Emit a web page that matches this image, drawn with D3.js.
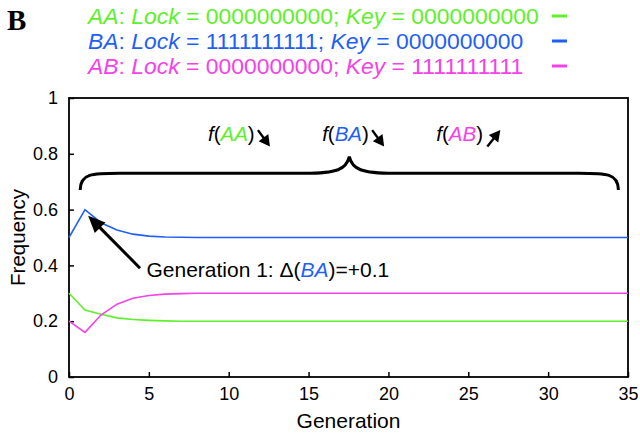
<!DOCTYPE html>
<html>
<head>
<meta charset="utf-8">
<script src="https://cdn.jsdelivr.net/npm/d3@7"></script>
<style>
  body { margin: 0; background: #fff; }
  text { font-family: "Liberation Sans", Arial, Helvetica, sans-serif; }
</style>
</head>
<body>
<div id="plot"></div>
<script>
//Generations on the x axis
const generations = d3.range(0, 36);

//Frequencies, one per generation
const freqAA = [0.300, 0.240, 0.225, 0.212, 0.206, 0.203, 0.201, 0.200, 0.200, 0.200,
                0.200, 0.200, 0.200, 0.200, 0.200, 0.200, 0.200, 0.200, 0.200, 0.200,
                0.200, 0.200, 0.200, 0.200, 0.200, 0.200, 0.200, 0.200, 0.200, 0.200,
                0.200, 0.200, 0.200, 0.200, 0.200, 0.200];
const freqBA = [0.500, 0.600, 0.553, 0.527, 0.512, 0.505, 0.502, 0.501, 0.500, 0.500,
                0.500, 0.500, 0.500, 0.500, 0.500, 0.500, 0.500, 0.500, 0.500, 0.500,
                0.500, 0.500, 0.500, 0.500, 0.500, 0.500, 0.500, 0.500, 0.500, 0.500,
                0.500, 0.500, 0.500, 0.500, 0.500, 0.500];
const freqAB = [0.200, 0.160, 0.222, 0.261, 0.282, 0.292, 0.297, 0.299, 0.300, 0.300,
                0.300, 0.300, 0.300, 0.300, 0.300, 0.300, 0.300, 0.300, 0.300, 0.300,
                0.300, 0.300, 0.300, 0.300, 0.300, 0.300, 0.300, 0.300, 0.300, 0.300,
                0.300, 0.300, 0.300, 0.300, 0.300, 0.300];

//Legend entries
const seriesNames = ["AA", "BA", "AB"];
const lockBits = ["0000000000", "1111111111", "0000000000"];
const keyBits = ["0000000000", "0000000000", "1111111111"];

//Tick labels
const xTicks = [0, 5, 10, 15, 20, 25, 30, 35];
const yTicks = [0, 0.2, 0.4, 0.6, 0.8, 1];

const colors = { AA: "#5ef02a", BA: "#1f5ff5", AB: "#f542e6" };
const series = [
    { name: "AA", values: freqAA },
    { name: "BA", values: freqBA },
    { name: "AB", values: freqAB }
];

const w = 640;
const h = 435;
const svg = d3.select("#plot")
    .append("svg")
    .attr("width", w)
    .attr("height", h);

//Plot box
const pLeft = 69, pRight = 628, pTop = 98, pBottom = 377;
const x = d3.scaleLinear().domain([0, 35]).range([pLeft, pRight]);
const y = d3.scaleLinear().domain([0, 1]).range([pBottom, pTop]);

//Panel letter
svg.append("text")
    .attr("x", 7)
    .attr("y", 30)
    .style("font-family", "'Liberation Serif', 'Times New Roman', serif")
    .style("font-weight", "bold")
    .style("font-size", "29px")
    .text("B");

//Legend rows
const legRow = svg.selectAll("g.leg")
    .data(seriesNames)
    .enter()
    .append("g")
    .attr("class", "leg")
    .attr("transform", (_, i) => "translate(88," + (24 + i * 25) + ")");

const legText = legRow.append("text")
    .style("font-size", "22.9px")
    .attr("fill", d => colors[d]);
legText.append("tspan").style("font-style", "italic").text(d => d);
legText.append("tspan").text(": ");
legText.append("tspan").style("font-style", "italic").text("Lock");
legText.append("tspan").text((d, i) => " = " + lockBits[i] + "; ");
legText.append("tspan").style("font-style", "italic").text("Key");
legText.append("tspan").text((d, i) => " = " + keyBits[i]);

legRow.append("line")
    .attr("x1", 464)
    .attr("x2", 479)
    .attr("y1", -8)
    .attr("y2", -8)
    .attr("stroke", d => colors[d])
    .attr("stroke-width", 3);

//Axes with inward ticks
const xAxis = svg.append("g")
    .attr("transform", "translate(0," + pBottom + ")")
    .call(d3.axisBottom(x).tickValues(xTicks).tickSize(-5).tickPadding(9).tickFormat(d3.format("d")));
const yAxis = svg.append("g")
    .attr("transform", "translate(" + pLeft + ",0)")
    .call(d3.axisLeft(y).tickValues(yTicks).tickSize(-5).tickPadding(11).tickFormat(d => d === 0 || d === 1 ? d : d.toFixed(1)));
[xAxis, yAxis].forEach(a => {
    a.select(".domain").remove();
    a.selectAll("line").attr("stroke", "#000").attr("stroke-width", 1.5);
    a.selectAll("text").style("font-size", "18px").style("font-family", "'Liberation Sans', Arial, sans-serif").attr("fill", "#000");
});
xAxis.selectAll("text").attr("dy", "0.8em");

//Frame
svg.append("rect")
    .attr("x", pLeft)
    .attr("y", pTop)
    .attr("width", pRight - pLeft)
    .attr("height", pBottom - pTop)
    .attr("fill", "none")
    .attr("stroke", "#000")
    .attr("stroke-width", 1.8);

//Series lines
const line = d3.line()
    .x((d, i) => x(generations[i]))
    .y(d => y(d));
svg.selectAll("path.series")
    .data(series)
    .enter()
    .append("path")
    .attr("class", "series")
    .attr("d", d => line(d.values))
    .attr("fill", "none")
    .attr("stroke", d => colors[d.name])
    .attr("stroke-width", 1.6);

//Axis titles
svg.append("text")
    .attr("x", (pLeft + pRight) / 2)
    .attr("y", 428)
    .attr("text-anchor", "middle")
    .style("font-size", "21px")
    .text("Generation");
svg.append("text")
    .attr("transform", "translate(25," + ((pTop + pBottom) / 2) + ") rotate(-90)")
    .attr("text-anchor", "middle")
    .style("font-size", "20.5px")
    .text("Frequency");

//Arrow helper: shaft from (x1,y1) to (x2,y2) with a filled head at (x2,y2)
const arrow = (x1, y1, x2, y2, headLen, headW, sw) => {
    const ang = Math.atan2(y2 - y1, x2 - x1);
    const bx = x2 - headLen * Math.cos(ang), by = y2 - headLen * Math.sin(ang);
    const px = -Math.sin(ang) * headW / 2, py = Math.cos(ang) * headW / 2;
    svg.append("line")
        .attr("x1", x1).attr("y1", y1).attr("x2", bx + 1 * Math.cos(ang)).attr("y2", by + 1 * Math.sin(ang))
        .attr("stroke", "#000").attr("stroke-width", sw);
    svg.append("path")
        .attr("d", "M" + x2 + "," + y2 + "L" + (bx + px) + "," + (by + py) + "L" + (bx - px) + "," + (by - py) + "Z")
        .attr("fill", "#000");
};

//f(..) labels with trend arrows
const trendLabels = [
    { name: "AA", gx: 8.7, dir: -1 },
    { name: "BA", gx: 15.85, dir: -1 },
    { name: "AB", gx: 23.0, dir: 1 }
];
trendLabels.forEach(t => {
    const tx = svg.append("text")
        .attr("x", x(t.gx))
        .attr("y", y(0.846))
        .style("font-size", "20.5px");
    tx.append("tspan").style("font-style", "italic").text("f");
    tx.append("tspan").text("(");
    tx.append("tspan").style("font-style", "italic").attr("fill", colors[t.name]).text(t.name);
    tx.append("tspan").text(")");
    const ax = x(t.gx) + 50;
    if (t.dir < 0) arrow(ax, y(0.885), ax + 12, y(0.826), 11, 12, 2.4);
    else arrow(ax + 1, y(0.826), ax + 14, y(0.885), 11, 12, 2.4);
});

//Curly brace over the plateau
const bx0 = x(0.7), bx1 = x(34.4), bm = x(17.55);
const yEnd = y(0.67), yMid = y(0.73), yTip = y(0.79);
const brace = d3.path();
brace.moveTo(bx0, yEnd);
brace.bezierCurveTo(bx0, yMid, bx0 + 12, yMid, bx0 + 40, yMid);
brace.lineTo(bm - 45, yMid);
brace.bezierCurveTo(bm - 12, yMid, bm - 3, yMid - 4, bm, yTip);
brace.bezierCurveTo(bm + 3, yMid - 4, bm + 12, yMid, bm + 45, yMid);
brace.lineTo(bx1 - 40, yMid);
brace.bezierCurveTo(bx1 - 12, yMid, bx1, yMid, bx1, yEnd);
svg.append("path")
    .attr("d", brace.toString())
    .attr("fill", "none")
    .attr("stroke", "#000")
    .attr("stroke-width", 3);

//Generation 1 annotation
arrow(x(4.45), y(0.39), x(1.2), y(0.578), 17, 15, 3);
const g1 = svg.append("text")
    .attr("x", x(4.85))
    .attr("y", y(0.358))
    .style("font-size", "21px");
g1.append("tspan").text("Generation 1: \u0394(");
g1.append("tspan").style("font-style", "italic").attr("fill", colors.BA).text("BA");
g1.append("tspan").text(")=+0.1");
</script>
</body>
</html>
